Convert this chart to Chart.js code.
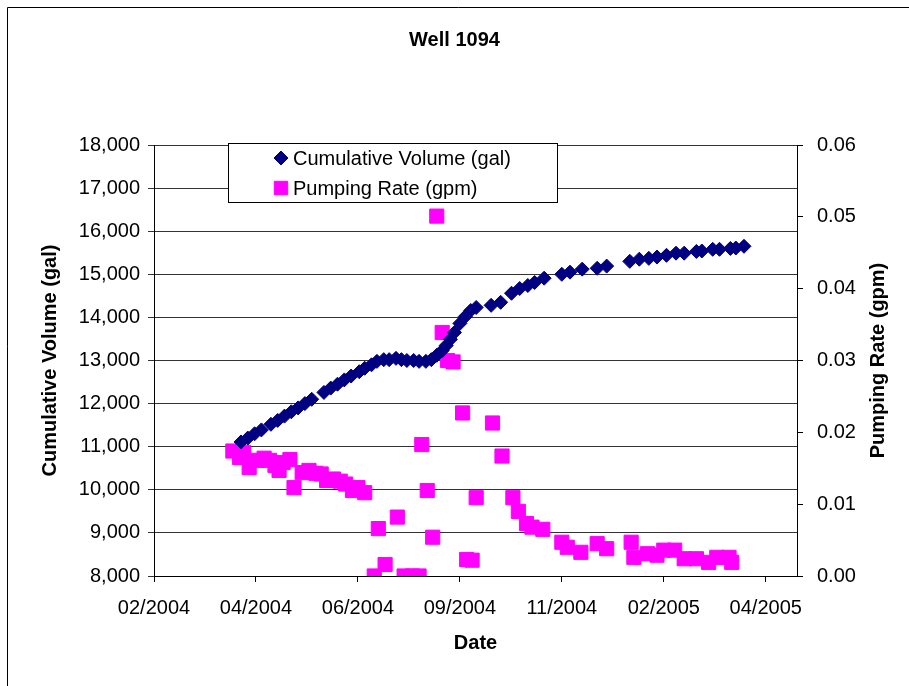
<!DOCTYPE html>
<html>
<head>
<meta charset="utf-8">
<title>Well 1094</title>
<script src="https://cdn.jsdelivr.net/npm/chart.js@4.4.1/dist/chart.umd.min.js"></script>
<style>
  html, body { margin: 0; padding: 0; background: #fff; }
  #wrap { position: relative; width: 909px; height: 686px; }
</style>
</head>
<body>
<div id="wrap"><canvas id="well-chart" width="909" height="686"></canvas></div>
<script>
// axis runs from 1 Feb 2004, one tick every 75 days (Excel date axis)
const axisStart = Date.UTC(2004, 1, 1);
const axisEndDays = 473;
const tickStepDays = 75;
const tickDays = [0, 75, 150, 225, 300, 375, 450];

const chartTitle = "Well 1094";
const leftAxisTitle = "Cumulative Volume (gal)";
const rightAxisTitle = "Pumping Rate (gpm)";
const xAxisTitle = "Date";

const volumeDates = [
    "2004-04-05", "2004-04-10", "2004-04-15", "2004-04-20", "2004-04-27", "2004-05-02",
    "2004-05-07", "2004-05-12", "2004-05-17", "2004-05-22", "2004-05-27", "2004-06-05",
    "2004-06-10", "2004-06-15", "2004-06-20", "2004-06-25", "2004-07-01", "2004-07-05",
    "2004-07-10", "2004-07-14", "2004-07-19", "2004-07-23", "2004-07-28", "2004-08-01",
    "2004-08-05", "2004-08-10", "2004-08-14", "2004-08-19", "2004-08-23", "2004-08-27",
    "2004-08-31", "2004-09-03", "2004-09-06", "2004-09-09", "2004-09-13", "2004-09-17",
    "2004-09-21", "2004-09-25", "2004-10-06", "2004-10-13", "2004-10-21", "2004-10-27",
    "2004-11-02", "2004-11-07", "2004-11-14", "2004-11-27", "2004-12-03", "2004-12-12",
    "2004-12-23", "2004-12-30", "2005-01-16", "2005-01-23", "2005-01-30", "2005-02-05",
    "2005-02-12", "2005-02-19", "2005-02-25", "2005-03-06", "2005-03-10", "2005-03-18",
    "2005-03-23", "2005-03-31", "2005-04-04", "2005-04-10"
];
const volumeValues = [
    11110, 11200, 11300, 11390, 11520, 11610,
    11710, 11810, 11900, 12000, 12100, 12260,
    12360, 12450, 12550, 12640, 12740, 12820,
    12900, 12980, 13020, 13020, 13050, 13020,
    13000, 13000, 12980, 12980, 13020, 13120,
    13230, 13350, 13490, 13650, 13860, 14020,
    14160, 14230, 14280, 14350, 14560, 14670,
    14740, 14810, 14910, 15000, 15050, 15120,
    15140, 15190, 15300, 15350, 15370, 15400,
    15440, 15490, 15490, 15530, 15540, 15580,
    15580, 15600, 15610, 15650
];

const rateDates = [
    "2004-03-30", "2004-04-04", "2004-04-07", "2004-04-11", "2004-04-17", "2004-04-22",
    "2004-04-26", "2004-04-30", "2004-05-03", "2004-05-06", "2004-05-11", "2004-05-14",
    "2004-05-20", "2004-05-25", "2004-05-30", "2004-06-03", "2004-06-07", "2004-06-12",
    "2004-06-17", "2004-06-21", "2004-06-26", "2004-06-30", "2004-07-05", "2004-07-12",
    "2004-07-15", "2004-07-20", "2004-07-29", "2004-08-03", "2004-08-09", "2004-08-14",
    "2004-08-16", "2004-08-20", "2004-08-24", "2004-08-27", "2004-08-31", "2004-09-04",
    "2004-09-08", "2004-09-15", "2004-09-18", "2004-09-22", "2004-09-25", "2004-10-07",
    "2004-10-14", "2004-10-22", "2004-10-26", "2004-11-01", "2004-11-05", "2004-11-13",
    "2004-11-27", "2004-12-01", "2004-12-11", "2004-12-23", "2004-12-30", "2005-01-17",
    "2005-01-19", "2005-01-29", "2005-02-05", "2005-02-10", "2005-02-18", "2005-02-25",
    "2005-03-06", "2005-03-15", "2005-03-21", "2005-03-30", "2005-04-01"
];
const rateValues = [
    0.0174, 0.0165, 0.0172, 0.0151, 0.0161, 0.0164,
    0.0161, 0.0154, 0.0147, 0.0158, 0.0162, 0.0123,
    0.0144, 0.0147, 0.0143, 0.0142, 0.0133, 0.0135,
    0.0132, 0.0128, 0.0119, 0.0123, 0.0116, 0.0000,
    0.0066, 0.0016, 0.0082, 0.0000, 0.0000, 0.0000,
    0.0183, 0.0119, 0.0054, 0.0501, 0.0339, 0.0300,
    0.0298, 0.0227, 0.0023, 0.0022, 0.0109, 0.0213,
    0.0167, 0.0109, 0.0090, 0.0073, 0.0068, 0.0065,
    0.0047, 0.0040, 0.0033, 0.0045, 0.0038, 0.0047,
    0.0026, 0.0031, 0.0029, 0.0036, 0.0036, 0.0024,
    0.0024, 0.0019, 0.0026, 0.0026, 0.0019
];

const FONT = '"Liberation Sans", Arial, sans-serif';
Chart.defaults.font.family = FONT;
Chart.defaults.color = "#000";

function dayOffset(s) {
    const [y, m, d] = s.split("-").map(Number);
    return (Date.UTC(y, m - 1, d) - axisStart) / 86400000;
}

function monthLabel(days) {
    const dt = new Date(axisStart + days * 86400000);
    return String(dt.getUTCMonth() + 1).padStart(2, "0") + "/" + dt.getUTCFullYear();
}

const volumePoints = volumeDates.map((d, i) => ({ x: dayOffset(d), y: volumeValues[i] }));
const ratePoints = rateDates.map((d, i) => ({ x: dayOffset(d), y: rateValues[i] }));

// white legend box sitting over the top of the plot
const legendBox = {
    id: "legendBox",
    afterDraw(chart) {
        const ctx = chart.ctx;
        ctx.save();
        ctx.fillStyle = "#fff";
        ctx.fillRect(228, 143, 329, 59);
        ctx.strokeStyle = "#000";
        ctx.lineWidth = 1;
        ctx.strokeRect(228.5, 143.5, 329, 59);
        ctx.font = "20px " + FONT;
        ctx.textBaseline = "middle";
        chart.data.datasets.forEach((ds, i) => {
            const y = 158 + i * 30;
            const style = {
                pointStyle: ds.pointStyle,
                radius: ds.pointStyle === "rect" ? 9.5 : 7,
                borderWidth: 1,
                rotation: 0
            };
            ctx.fillStyle = ds.backgroundColor;
            ctx.strokeStyle = ds.borderColor;
            Chart.helpers.drawPoint(ctx, style, 281, y);
            ctx.fillStyle = "#000";
            ctx.fillText(ds.label, 293, y + 1);
        });
        ctx.restore();
    }
};

// right axis title reads bottom to top, like the left one
const rightTitle = {
    id: "rightTitle",
    afterDraw(chart) {
        const ctx = chart.ctx;
        const area = chart.chartArea;
        ctx.save();
        ctx.font = "bold 20px " + FONT;
        ctx.fillStyle = "#000";
        ctx.textAlign = "center";
        ctx.textBaseline = "middle";
        ctx.translate(chart.scales.y2.right - 31, (area.top + area.bottom) / 2);
        ctx.rotate(-Math.PI / 2);
        ctx.fillText(rightAxisTitle, 0, 0);
        ctx.restore();
    }
};

// outer chart border (left and top edges show)
const outerBorder = {
    id: "outerBorder",
    beforeDraw(chart) {
        const ctx = chart.ctx;
        ctx.save();
        ctx.fillStyle = "#fff";
        ctx.fillRect(0, 0, chart.width, chart.height);
        ctx.strokeStyle = "#000";
        ctx.lineWidth = 1;
        ctx.beginPath();
        ctx.moveTo(7.5, chart.height);
        ctx.lineTo(7.5, 7.5);
        ctx.lineTo(chart.width, 7.5);
        ctx.stroke();
        ctx.restore();
    }
};

new Chart(document.getElementById("well-chart"), {
    type: "scatter",
    data: {
        datasets: [
            {
                label: "Cumulative Volume (gal)",
                data: volumePoints,
                yAxisID: "y",
                pointStyle: "rectRot",
                pointRadius: 7,
                pointBorderWidth: 1,
                backgroundColor: "#000080",
                borderColor: "#000080",
                showLine: false
            },
            {
                label: "Pumping Rate (gpm)",
                data: ratePoints,
                yAxisID: "y2",
                pointStyle: "rect",
                pointRadius: 10,
                pointBorderWidth: 1,
                backgroundColor: "#ff00ff",
                borderColor: "#ff00ff",
                showLine: false
            }
        ]
    },
    options: {
        responsive: false,
        animation: false,
        layout: { padding: 0 },
        plugins: {
            legend: { display: false },
            tooltip: { enabled: false },
            title: {
                display: true,
                text: chartTitle,
                color: "#000",
                font: { size: 20, weight: "bold" },
                padding: { top: 28, bottom: 93 }
            }
        },
        scales: {
            x: {
                type: "linear",
                position: "bottom",
                min: 0,
                max: axisEndDays,
                afterBuildTicks: (scale) => {
                    scale.ticks = tickDays.map((v) => ({ value: v }));
                },
                afterFit: (scale) => { scale.height = 110; },
                ticks: {
                    stepSize: tickStepDays,
                    autoSkip: false,
                    maxRotation: 0,
                    padding: 14,
                    font: { size: 20 },
                    callback: (v) => monthLabel(v)
                },
                grid: { drawOnChartArea: false, tickLength: 6, color: "#000" },
                border: { color: "#000", width: 1 },
                title: {
                    display: true,
                    text: xAxisTitle,
                    font: { size: 20, weight: "bold" },
                    padding: { top: 0, bottom: 31 }
                }
            },
            y: {
                position: "left",
                min: 8000,
                max: 18000,
                afterFit: (scale) => { scale.width = 154; },
                ticks: {
                    stepSize: 1000,
                    padding: 8,
                    font: { size: 20 },
                    callback: (v) => v.toLocaleString("en-US")
                },
                grid: { color: "#333", tickLength: 6 },
                border: { color: "#000", width: 1 },
                title: {
                    display: true,
                    text: leftAxisTitle,
                    font: { size: 20, weight: "bold" },
                    padding: { top: 38, bottom: 0 }
                }
            },
            y2: {
                position: "right",
                min: 0,
                max: 0.06,
                afterFit: (scale) => { scale.width = 112; },
                ticks: {
                    stepSize: 0.01,
                    padding: 14,
                    font: { size: 20 },
                    callback: (v) => v.toFixed(2)
                },
                grid: { drawOnChartArea: false, tickLength: 6, color: "#000" },
                border: { color: "#000", width: 1 }
            }
        }
    },
    plugins: [outerBorder, legendBox, rightTitle]
});
</script>
</body>
</html>
